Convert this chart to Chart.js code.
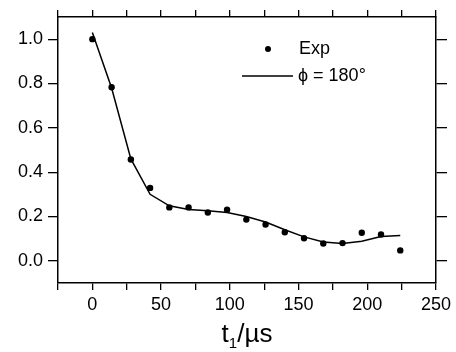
<!DOCTYPE html>
<html>
<head>
<meta charset="utf-8">
<script src="https://cdn.jsdelivr.net/npm/chart.js@4/dist/chart.umd.min.js"></script>
<style>
  html, body { margin: 0; padding: 0; background: #fff; }
  #wrap { width: 456px; height: 352px; }
</style>
</head>
<body>
<div id="wrap"><canvas id="decayChart" width="456" height="352"></canvas></div>
<script>
// measured points (Exp) and simulated curve (phi = 180)
const expT = [0, 14, 28, 42, 56, 70, 84, 98, 112, 126, 140, 154, 168, 182, 196, 210, 224];
const expY = [1.0, 0.783, 0.457, 0.329, 0.241, 0.241, 0.218, 0.231, 0.186, 0.164, 0.129, 0.102, 0.078, 0.080, 0.127, 0.119, 0.047];
const simT = [0, 14, 28, 42, 56, 70, 84, 98, 112, 126, 140, 154, 168, 182, 196, 210, 224];
const simY = [1.03, 0.78, 0.46, 0.30, 0.248, 0.232, 0.226, 0.218, 0.200, 0.175, 0.140, 0.108, 0.085, 0.078, 0.088, 0.110, 0.114];

const xTicks = [-25, 0, 25, 50, 75, 100, 125, 150, 175, 200, 225, 250];
const xLabels = [0, 50, 100, 150, 200, 250];
const yTicks = [0.0, 0.2, 0.4, 0.6, 0.8, 1.0];

const FONT = 'Liberation Sans, Arial, sans-serif';

function fixTicks(list) {
    return function(scale) {
        scale.ticks = list.map(v => ({ value: v }));
    };
}

// legend drawn inside the plot, upper right
const insideLegend = {
    id: 'insideLegend',
    afterDraw(chart) {
        const c = chart.ctx;
        c.save();
        c.fillStyle = '#000';
        c.strokeStyle = '#000';
        c.font = '18px ' + FONT;
        c.textBaseline = 'middle';
        // dot entry
        c.beginPath();
        c.arc(268, 49, 3, 0, Math.PI * 2);
        c.fill();
        c.fillText(chart.data.datasets[0].label, 299, 49);
        // line entry
        c.lineWidth = 1.5;
        c.beginPath();
        c.moveTo(242, 76);
        c.lineTo(293, 76);
        c.stroke();
        c.fillText(chart.data.datasets[1].label, 298, 76);
        c.restore();
    }
};

// x axis title with subscript
const xTitle = {
    id: 'xTitle',
    afterDraw(chart) {
        const c = chart.ctx;
        const a = chart.chartArea;
        c.save();
        c.fillStyle = '#000';
        c.textBaseline = 'alphabetic';
        const big = '26px ' + FONT, small = '15px ' + FONT;
        c.font = big;
        const wT = c.measureText('t').width;
        const wRest = c.measureText('/\u00b5s').width;
        c.font = small;
        const w1 = c.measureText('1').width;
        let x = (a.left + a.right) / 2 - (wT + w1 + wRest) / 2;
        const base = 342;
        c.font = big;
        c.fillText('t', x, base);
        x += wT;
        c.font = small;
        c.fillText('1', x, base + 6);
        x += w1;
        c.font = big;
        c.fillText('/\u00b5s', x, base);
        c.restore();
    }
};

const ctx = document.getElementById('decayChart').getContext('2d');
const decayChart = new Chart(ctx, {
    type: 'scatter',
    data: {
        datasets: [{
            label: 'Exp',
            data: expT.map((t, i) => ({ x: t, y: expY[i] })),
            showLine: false,
            pointRadius: 3.2,
            pointBackgroundColor: '#000',
            pointBorderWidth: 0,
            backgroundColor: '#000'
        }, {
            label: '\u03d5 = 180\u00b0',
            data: simT.map((t, i) => ({ x: t, y: simY[i] })),
            showLine: true,
            borderColor: '#000',
            borderWidth: 1.5,
            pointRadius: 0,
            tension: 0
        }]
    },
    options: {
        responsive: false,
        animation: false,
        layout: { padding: 0 },
        plugins: {
            legend: { display: false },
            tooltip: { enabled: false }
        },
        scales: {
            x: {
                type: 'linear',
                position: 'bottom',
                min: -25, max: 250,
                afterBuildTicks: fixTicks(xTicks),
                afterFit(scale) { scale.height = 69; },
                grid: { drawOnChartArea: false, tickLength: 7, color: '#000', lineWidth: 1.3 },
                border: { color: '#000', width: 1.5 },
                ticks: {
                    color: '#000',
                    font: { family: FONT, size: 18 },
                    padding: 4,
                    maxRotation: 0,
                    autoSkip: false,
                    callback: v => xLabels.includes(v) ? String(v) : ''
                }
            },
            xTop: {
                type: 'linear',
                position: 'top',
                min: -25, max: 250,
                afterBuildTicks: fixTicks(xTicks),
                afterFit(scale) { scale.height = 17; },
                grid: { drawOnChartArea: false, tickLength: 7, color: '#000', lineWidth: 1.3 },
                border: { color: '#000', width: 1.5 },
                ticks: { display: false }
            },
            y: {
                type: 'linear',
                position: 'left',
                min: -0.1, max: 1.1,
                afterBuildTicks: fixTicks(yTicks),
                afterFit(scale) { scale.width = 58; },
                grid: { drawOnChartArea: false, tickLength: 10, color: '#000', lineWidth: 1.3 },
                border: { color: '#000', width: 1.5 },
                ticks: {
                    color: '#000',
                    font: { family: FONT, size: 18 },
                    padding: 5,
                    callback: v => v.toFixed(1)
                }
            },
            yRight: {
                type: 'linear',
                position: 'right',
                min: -0.1, max: 1.1,
                afterBuildTicks: fixTicks(yTicks),
                afterFit(scale) { scale.width = 20; },
                grid: { drawOnChartArea: false, tickLength: 11, color: '#000', lineWidth: 1.3 },
                border: { color: '#000', width: 1.5 },
                ticks: { display: false }
            }
        }
    },
    plugins: [insideLegend, xTitle]
});
</script>
</body>
</html>
